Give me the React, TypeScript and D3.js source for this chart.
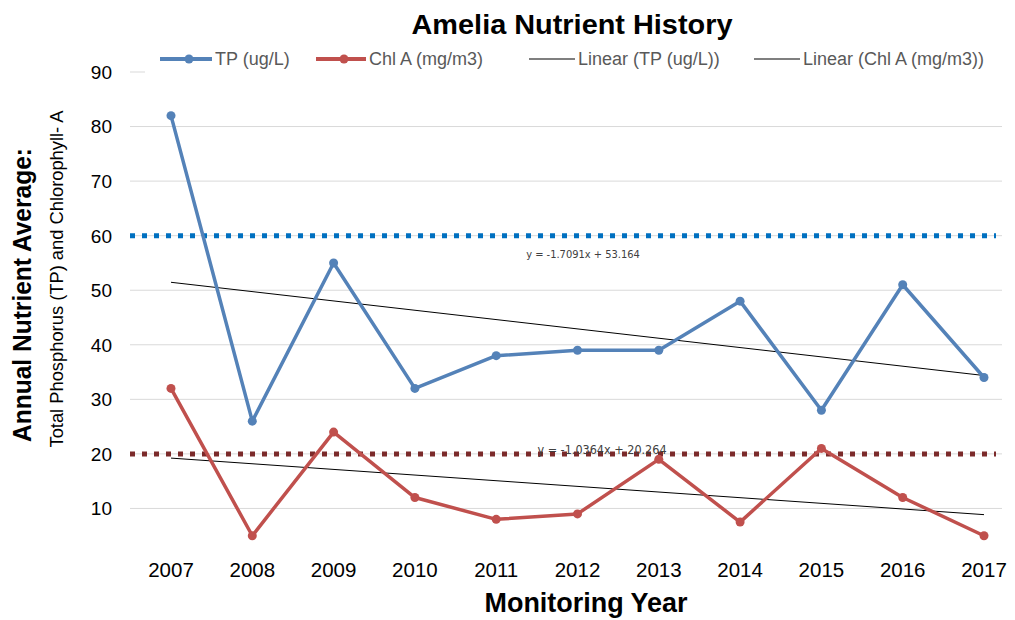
import { useEffect, useRef } from 'react'
import * as d3 from 'd3'

// Amelia nutrient history: TP and Chl A annual averages with linear trends
const years = ['2007', '2008', '2009', '2010', '2011', '2012', '2013', '2014', '2015', '2016', '2017']
const tp = [82, 26, 55, 32, 38, 39, 39, 48, 28, 51, 34]
const chlA = [32, 5, 24, 12, 8, 9, 19, 7.5, 21, 12, 5]
const yTicks = [10, 20, 30, 40, 50, 60, 70, 80, 90]
const tpTarget = 60
const chlTarget = 20
const tpFit = { slope: -1.7091, intercept: 53.164 }
const chlFit = { slope: -1.0364, intercept: 20.264 }

const W = 1015
const H = 620
const SANS = '"Liberation Sans", Arial, sans-serif'
const BLUE = '#5482B8'
const RED = '#C0504D'

export default function App() {
  const ref = useRef<SVGSVGElement>(null)

  useEffect(() => {
    const svg = d3.select(ref.current)
    svg.selectAll('*').remove()

    const x = d3.scalePoint<string>().domain(years).range([171, 984])
    const y = d3.scaleLinear().domain([0, 90]).range([563, 72])
    const gridL = 130
    const gridR = 1002

    // gridlines
    svg.append('g')
      .selectAll('line')
      .data(yTicks)
      .join('line')
      .attr('x1', gridL)
      .attr('x2', gridR)
      .attr('y1', d => y(d))
      .attr('y2', d => y(d))
      .attr('stroke', '#d9d9d9')
      .attr('stroke-width', 1)

    // y tick labels
    svg.append('g')
      .selectAll('text')
      .data(yTicks)
      .join('text')
      .attr('x', 112)
      .attr('y', d => y(d))
      .attr('dy', '0.36em')
      .attr('text-anchor', 'end')
      .attr('font-family', SANS)
      .attr('font-size', 19)
      .attr('fill', '#000')
      .text(d => d)

    // x tick labels
    svg.append('g')
      .selectAll('text')
      .data(years)
      .join('text')
      .attr('x', d => x(d)!)
      .attr('y', 577)
      .attr('text-anchor', 'middle')
      .attr('font-family', SANS)
      .attr('font-size', 20.5)
      .attr('fill', '#000')
      .text(d => d)

    // target lines
    const targets = [
      { v: tpTarget, c: '#0070C0' },
      { v: chlTarget, c: '#7B2A2A' },
    ]
    svg.append('g')
      .selectAll('line')
      .data(targets)
      .join('line')
      .attr('x1', gridL)
      .attr('x2', gridR - 6)
      .attr('y1', d => y(d.v))
      .attr('y2', d => y(d.v))
      .attr('stroke', d => d.c)
      .attr('stroke-width', 5)
      .attr('stroke-dasharray', '5 7')

    // trend lines (x = 1..n)
    const fits = [tpFit, chlFit]
    svg.append('g')
      .selectAll('line')
      .data(fits)
      .join('line')
      .attr('x1', x(years[0])!)
      .attr('x2', x(years[years.length - 1])!)
      .attr('y1', d => y(d.slope * 1 + d.intercept))
      .attr('y2', d => y(d.slope * years.length + d.intercept))
      .attr('stroke', '#000')
      .attr('stroke-width', 1)

    // equations
    const eqs = [
      { t: `y = ${tpFit.slope}x + ${tpFit.intercept}`, x: 583, y: 258, s: 11 },
      { t: `y = ${chlFit.slope}x + ${chlFit.intercept.toFixed(3)}`, x: 602, y: 454, s: 12.5 },
    ]
    svg.append('g')
      .selectAll('text')
      .data(eqs)
      .join('text')
      .attr('x', d => d.x)
      .attr('y', d => d.y)
      .attr('text-anchor', 'middle')
      .attr('font-family', '"DejaVu Sans Condensed", ' + SANS)
      .attr('font-size', d => d.s)
      .attr('fill', '#404040')
      .text(d => d.t)

    // series
    const series = [
      { vals: chlA, c: RED },
      { vals: tp, c: BLUE },
    ]
    const line = d3.line<number>()
      .x((_, i) => x(years[i])!)
      .y(d => y(d))
    series.forEach(s => {
      svg.append('path')
        .datum(s.vals)
        .attr('d', line)
        .attr('fill', 'none')
        .attr('stroke', s.c)
        .attr('stroke-width', 3.5)
        .attr('stroke-linejoin', 'round')
      svg.append('g')
        .selectAll('circle')
        .data(s.vals)
        .join('circle')
        .attr('cx', (_, i) => x(years[i])!)
        .attr('cy', d => y(d))
        .attr('r', 4.5)
        .attr('fill', s.c)
    })

    // legend (white box hides the top gridline, as in the source)
    svg.append('rect')
      .attr('x', 145)
      .attr('y', 46)
      .attr('width', gridR - 145 + 1)
      .attr('height', 32)
      .attr('fill', '#fff')
    const legend = [
      { label: 'TP (ug/L)', x: 160, len: 52, c: BLUE, marker: true },
      { label: 'Chl A (mg/m3)', x: 316, len: 50, c: RED, marker: true },
      { label: 'Linear (TP (ug/L))', x: 529, len: 46, c: '#000', marker: false },
      { label: 'Linear (Chl A (mg/m3))', x: 754, len: 46, c: '#000', marker: false },
    ]
    const lg = svg.append('g').selectAll('g').data(legend).join('g')
      .attr('transform', d => `translate(${d.x},59)`)
    lg.append('line')
      .attr('x1', 0)
      .attr('x2', d => d.len)
      .attr('stroke', d => d.c)
      .attr('stroke-width', d => (d.marker ? 4 : 1.2))
    lg.filter(d => d.marker)
      .append('circle')
      .attr('cx', d => d.len / 2 + 3)
      .attr('r', 4.5)
      .attr('fill', d => d.c)
    lg.append('text')
      .attr('x', d => d.len + 3)
      .attr('dy', '0.36em')
      .attr('font-family', SANS)
      .attr('font-size', 18)
      .attr('fill', '#595959')
      .text(d => d.label)

    // title
    svg.append('text')
      .attr('x', 572)
      .attr('y', 34)
      .attr('text-anchor', 'middle')
      .attr('font-family', SANS)
      .attr('font-weight', 'bold')
      .attr('font-size', 27)
      .attr('textLength', 321)
      .attr('lengthAdjust', 'spacingAndGlyphs')
      .text('Amelia Nutrient History')

    // x axis title
    svg.append('text')
      .attr('x', 586)
      .attr('y', 612)
      .attr('text-anchor', 'middle')
      .attr('font-family', SANS)
      .attr('font-weight', 'bold')
      .attr('font-size', 27)
      .attr('textLength', 203)
      .attr('lengthAdjust', 'spacingAndGlyphs')
      .text('Monitoring Year')

    // y axis titles
    svg.append('text')
      .attr('transform', 'translate(31,295) rotate(-90)')
      .attr('text-anchor', 'middle')
      .attr('font-family', SANS)
      .attr('font-weight', 'bold')
      .attr('font-size', 26)
      .attr('textLength', 294)
      .attr('lengthAdjust', 'spacingAndGlyphs')
      .text('Annual Nutrient Average:')
    svg.append('text')
      .attr('transform', 'translate(63,279) rotate(-90)')
      .attr('text-anchor', 'middle')
      .attr('font-family', SANS)
      .attr('font-size', 19)
      .attr('textLength', 337)
      .attr('lengthAdjust', 'spacingAndGlyphs')
      .text('Total Phosphorus (TP) and Chlorophyll- A')
  }, [])

  return (
    <svg
      ref={ref}
      width={W}
      height={H}
      style={{ position: 'absolute', left: 0, top: 0, background: '#fff' }}
    />
  )
}
